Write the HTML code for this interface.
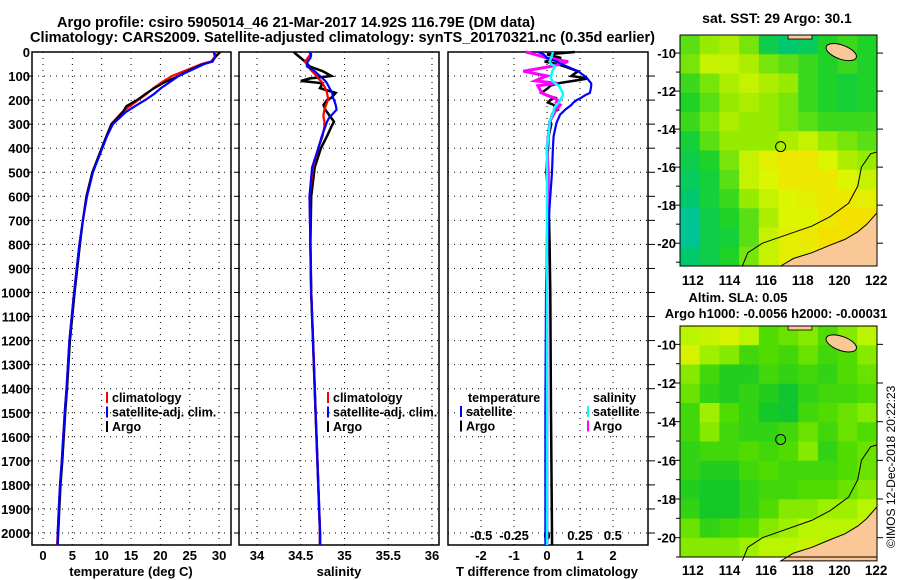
<!DOCTYPE html>
<html><head><meta charset="utf-8"><style>
body{margin:0;background:#fff;}
svg{display:block;font-family:"Liberation Sans",sans-serif;font-weight:bold;}
</style></head><body>
<svg id="fig" width="900" height="580" viewBox="0 0 900 580">
<g id="static">
<text x="57" y="27" font-size="14.5" textLength="478" lengthAdjust="spacingAndGlyphs">Argo profile: csiro 5905014_46 21-Mar-2017 14.92S 116.79E (DM data)</text>
<text x="30" y="42" font-size="14.5" textLength="625" lengthAdjust="spacingAndGlyphs">Climatology: CARS2009. Satellite-adjusted climatology: synTS_20170321.nc (0.35d earlier)</text>
<text x="131" y="576" text-anchor="middle" font-size="13">temperature (deg C)</text>
<text x="339" y="576" text-anchor="middle" font-size="13">salinity</text>
<text x="547" y="576" text-anchor="middle" font-size="13">T difference from climatology</text>
<text x="547" y="524" text-anchor="middle" font-size="13">S difference from climatology</text>
<text x="326" y="517" font-size="12" font-weight="normal">Argo Australia</text>
<text x="326" y="531" font-size="12" font-weight="normal">PI: Susan Wijffels</text>
<text x="777" y="23" text-anchor="middle" font-size="14">sat. SST: 29 Argo: 30.1</text>
<text x="738" y="302" text-anchor="middle" font-size="13">Altim. SLA: 0.05</text>
<text x="776" y="318" text-anchor="middle" font-size="13">Argo h1000: -0.0056 h2000: -0.00031</text>
<text transform="translate(895,548) rotate(-90)" font-size="12" font-weight="normal">©IMOS 12-Dec-2018 20:22:23</text>
</g>
</svg>
<script>
// ---------- profile data ----------
const tDepths = [0,20,40,50,75,100,125,150,175,200,225,250,300,350,400,500,600,700,800,1000,1200,1400,1500,1700,1800,1900,2000,2050];
const tClim   = [29.4,29.3,28.6,27.0,24.5,22.0,20.3,18.8,17.6,16.2,14.8,13.5,11.6,10.8,10.0,8.4,7.4,6.8,6.2,5.3,4.5,4.0,3.7,3.2,2.9,2.7,2.5,2.4];
const tSat    = [29.1,29.3,28.9,27.5,25.3,23.1,21.6,20.1,18.9,17.4,15.7,14.1,11.9,10.9,10.1,8.5,7.5,6.8,6.2,5.3,4.5,4.0,3.7,3.2,2.9,2.7,2.5,2.5];
const tArgo   = [30.2,29.4,28.8,27.3,25.0,23.1,20.8,19.0,17.4,16.0,14.2,13.6,11.7,10.8,10.0,8.4,7.4,6.8,6.3,5.4,4.6,4.1,3.8,3.3,3.0,2.8,2.6,2.5];
const sDepths = [0,10,25,40,60,80,100,110,120,130,150,170,190,200,220,240,260,270,290,310,350,400,480,600,800,1000,1200,1500,1700,2000,2050];
const sClim   = [34.60,34.61,34.58,34.55,34.58,34.63,34.68,34.70,34.73,34.75,34.78,34.80,34.81,34.81,34.79,34.77,34.76,34.76,34.77,34.77,34.75,34.70,34.64,34.60,34.61,34.62,34.64,34.67,34.69,34.72,34.72];
const sSat    = [34.60,34.62,34.61,34.58,34.57,34.66,34.72,34.75,34.78,34.80,34.83,34.86,34.87,34.88,34.90,34.91,34.86,34.83,34.80,34.78,34.74,34.70,34.63,34.60,34.61,34.62,34.64,34.67,34.69,34.72,34.72];
const sArgo   = [34.42,34.45,34.50,34.55,34.60,34.75,34.85,34.60,34.50,34.75,34.72,34.90,34.85,34.80,34.76,34.78,34.82,34.84,34.88,34.85,34.80,34.73,34.66,34.62,34.61,34.62,34.64,34.67,34.69,34.72,34.72];
const dDepths   = [0,10,25,40,50,60,80,100,110,120,130,140,150,170,180,190,200,210,220,240,250,260,290,300,350,400,500,600,800,1000,1500,2000,2050];
const dTSat     = [-0.27,-0.1,0.0,0.3,0.43,0.6,0.94,1.14,1.22,1.28,1.34,1.34,1.33,1.30,1.15,1.04,0.9,0.8,0.74,0.55,0.48,0.4,0.3,0.28,0.2,0.18,0.15,0.1,0.0,-0.03,-0.05,-0.05,-0.05];
const dTArgo    = [0.84,0.0,0.43,-0.07,0.3,0.53,0.94,0.74,1.24,0.8,0.33,0.1,0.03,-0.17,0.0,0.23,0.1,0.03,0.2,0.33,0.2,0.15,0.1,0.13,0.05,0.03,-0.02,0.05,0.08,0.1,0.12,0.15,0.15];
const dSArgo    = [-0.16,-0.09,0.0,0.16,0.1,0.03,-0.18,0.0,-0.05,-0.09,0.08,-0.07,-0.06,-0.04,0.0,0.05,0.08,0.07,0.1,0.07,0.06,0.05,0.02,0.02,0.01,0.0,0.01,0.01,0.0,0.0,0.0,0.0,0.0];
const dSSat     = [0.045,0.04,0.03,0.02,0.03,0.06,0.04,0.03,0.03,0.04,0.06,0.09,0.1,0.12,0.12,0.11,0.1,0.09,0.07,0.05,0.05,0.04,0.02,0.02,0.01,0.0,0.0,0.0,0.0,0.0,0.0,0.0,0.0];
const depthTicks = [0,100,200,300,400,500,600,700,800,900,1000,1100,1200,1300,1400,1500,1600,1700,1800,1900,2000];
const tTicks = [0,5,10,15,20,25,30];
const sTicks = [34,34.5,35,35.5,36];
const sTickLabels = ["34","34.5","35","35.5","36"];
const dtTicks = [-2,-1,0,1,2];
const dsTicks = [-0.5,-0.25,0,0.25,0.5];
const dsTickLabels = ["-0.5","-0.25","0","0.25","0.5"];
// ---------- map data (10 lon cols x 12 lat rows, 0..1 colour index) ----------
const sstGrid = [
[0.5,0.6,0.65,0.55,0.3,0.2,0.25,0.4,0.45,0.4],
[0.55,0.7,0.7,0.65,0.55,0.5,0.45,0.4,0.45,0.4],
[0.45,0.55,0.65,0.7,0.65,0.6,0.45,0.4,0.35,0.4],
[0.4,0.5,0.6,0.65,0.6,0.55,0.45,0.4,0.35,0.4],
[0.45,0.55,0.65,0.6,0.6,0.55,0.5,0.45,0.45,0.45],
[0.35,0.5,0.6,0.6,0.6,0.65,0.7,0.6,0.55,0.5],
[0.3,0.4,0.55,0.7,0.8,0.85,0.85,0.75,0.65,0.6],
[0.25,0.35,0.5,0.7,0.75,0.85,0.85,0.85,0.75,0.7],
[0.2,0.35,0.45,0.6,0.7,0.75,0.8,0.85,0.85,0.8],
[0.1,0.3,0.4,0.5,0.65,0.75,0.75,0.85,0.9,0.9],
[0.1,0.3,0.35,0.5,0.7,0.8,0.85,0.9,0.9,0.9],
[0.2,0.3,0.4,0.55,0.7,0.8,0.8,0.85,0.9,0.9]];
const slaGrid = [
[0.7,0.75,0.8,0.7,0.5,0.55,0.6,0.5,0.6,0.7],
[0.8,0.65,0.6,0.45,0.5,0.45,0.55,0.45,0.5,0.6],
[0.6,0.45,0.35,0.35,0.45,0.4,0.45,0.4,0.5,0.55],
[0.55,0.4,0.35,0.4,0.35,0.25,0.4,0.45,0.45,0.5],
[0.45,0.65,0.5,0.4,0.3,0.25,0.45,0.5,0.55,0.6],
[0.45,0.6,0.45,0.4,0.4,0.45,0.55,0.45,0.55,0.5],
[0.4,0.45,0.45,0.5,0.45,0.5,0.6,0.4,0.5,0.55],
[0.4,0.35,0.35,0.45,0.5,0.45,0.45,0.45,0.5,0.55],
[0.35,0.3,0.3,0.4,0.45,0.45,0.5,0.5,0.55,0.6],
[0.4,0.3,0.3,0.4,0.5,0.6,0.6,0.65,0.65,0.7],
[0.55,0.4,0.45,0.5,0.6,0.65,0.7,0.7,0.7,0.75],
[0.6,0.6,0.6,0.65,0.7,0.7,0.75,0.7,0.75,0.8]];
const coastLon = [116.8,117.5,118.5,119.5,120.3,121.0,121.5,122.05,122.05];
const coastLat = [-21.2,-20.8,-20.5,-20.1,-19.8,-19.4,-19.0,-18.4,-21.2];
const isoLon = [114.7,115.0,115.8,117.0,118.5,119.5,120.5,121.0,121.2,121.7,122.05];
const isoLat = [-21.2,-20.5,-20.0,-19.6,-19.1,-18.6,-17.9,-17.0,-16.0,-15.3,-15.2];
const floatLon = 116.79, floatLat = -14.92;
const lonTicks = [112,114,116,118,120,122];
const latTicks = [-10,-12,-14,-16,-18,-20];

const NS = "http://www.w3.org/2000/svg";
const svg = document.getElementById('fig');
function mk(tag, attrs, parent){const e=document.createElementNS(NS,tag);for(const k in attrs)e.setAttribute(k,attrs[k]);(parent||svg).appendChild(e);return e;}
const Y0=52, YB=545;
const yD = d => Y0 + d*0.2405;
const panels = [
 {name:'temperature', x0:32, x1:231, f:v=>43+v*5.87},
 {name:'salinity', x0:239, x1:439, f:v=>257+(v-34)*87.5},
 {name:'difference', x0:448, x1:648, f:v=>547+v*33}
];
const fS = v => 547 + v*131.7;

panels.forEach((p,pi)=>{
  const g = mk('g',{});
  
  
  mk('rect',{x:p.x0,y:Y0,width:p.x1-p.x0,height:YB-Y0,fill:'#fff',stroke:'#000','stroke-width':1.5},g);
  depthTicks.forEach(d=>{
    if(d===0) return;
    const l = mk('line',{x1:p.x0,x2:p.x1,y1:yD(d),y2:yD(d),stroke:'#000','stroke-dasharray':'1 5','stroke-width':1},g);
    
    
    const tk = pi===2 ? mk('line',{x1:p.x1,x2:p.x1+7,y1:yD(d),y2:yD(d),stroke:'#000'},g) : mk('line',{x1:p.x0-5,x2:p.x0,y1:yD(d),y2:yD(d),stroke:'#000'},g);
    
    
  });
});
depthTicks.forEach(d=>{
  const t = mk('text',{x:30,y:yD(d)+5,'text-anchor':'end','font-size':13});
  t.textContent = d;
  
  
});
function xTicks(vals, labels, f, y, grid, gy0, gy1){
  vals.forEach((v,i)=>{
    if(grid){
      const l = mk('line',{x1:f(v),x2:f(v),y1:gy0,y2:gy1,stroke:'#000','stroke-dasharray':'1 5'});
      
      
    }
    const t = mk('text',{x:f(v),y:y,'text-anchor':'middle','font-size':13});
    t.textContent = labels ? labels[i] : v;
    
    
  });
}
xTicks(tTicks,null,panels[0].f,560,true,Y0,YB);
xTicks(sTicks,sTickLabels,panels[1].f,560,true,Y0,YB);
xTicks(dtTicks,null,panels[2].f,560,true,Y0,YB);
xTicks(dsTicks,dsTickLabels,fS,540,false);

function line(depths, vals, f, color, name, w){
  const pts = depths.map((d,i)=>f(vals[i]).toFixed(1)+','+yD(d).toFixed(1)).join(' ');
  const pl = mk('polyline',{points:pts,fill:'none',stroke:color,'stroke-width':w||2.2,'stroke-linejoin':'miter'});
  
  
}
line(tDepths,tClim,panels[0].f,'#ff0000','temperature-climatology-line');
line(tDepths,tArgo,panels[0].f,'#000000','temperature-argo-line');
line(tDepths,tSat,panels[0].f,'#0000ff','temperature-satellite-line');
line(sDepths,sArgo,panels[1].f,'#000000','salinity-argo-line',2.5);
line(sDepths,sClim,panels[1].f,'#ff0000','salinity-climatology-line');
line(sDepths,sSat,panels[1].f,'#0000ff','salinity-satellite-line');
line(dDepths,dTArgo,panels[2].f,'#000000','t-diff-argo-line',2.5);
line(dDepths,dSArgo,fS,'#ff00ff','s-diff-argo-line',3);
line(dDepths,dTSat,panels[2].f,'#0000ff','t-diff-satellite-line');
line(dDepths,dSSat,fS,'#00ffff','s-diff-satellite-line',2.5);

function legend(x,y,items){
  items.forEach((it,i)=>{
    const yy=y+i*14.5;
    const m = mk('rect',{x:x,y:yy-10,width:2,height:11,fill:it[1]});
    
    
    const t = mk('text',{x:x+6,y:yy,'font-size':12.5});
    t.textContent = it[0];
    
    
  });
}
legend(106,402,[['climatology','#f00'],['satellite-adj. clim.','#00f'],['Argo','#000']]);
legend(327,402,[['climatology','#f00'],['satellite-adj. clim.','#00f'],['Argo','#000']]);
const lt = mk('text',{x:468,y:402,'font-size':12.5}); lt.textContent='temperature';


const ls = mk('text',{x:593,y:402,'font-size':12.5}); ls.textContent='salinity';


legend(460,416,[['satellite','#00f'],['Argo','#000']]);
legend(587,416,[['satellite','#0ff'],['Argo','#f0f']]);

// ---------- maps ----------
const MX0=680, MX1=877, LON0=111.3, LON1=122.05;
const mx = lon => MX0 + (lon-LON0)*(MX1-MX0)/(LON1-LON0);
function lerpC(stops, v){
  for(let i=1;i<stops.length;i++){ if(v<=stops[i][0]){const a=stops[i-1],b=stops[i],t=(v-a[0])/(b[0]-a[0]);
    return 'rgb('+[1,2,3].map(k=>Math.round(a[k]+(b[k]-a[k])*t)).join(',')+')';}}
  const s=stops[stops.length-1];return 'rgb('+s[1]+','+s[2]+','+s[3]+')';
}
const sstStops=[[0,0,190,190],[0.2,0,200,110],[0.4,30,210,40],[0.6,150,235,0],[0.75,220,245,0],[0.9,245,225,0],[1,250,205,0]];
const slaStops=[[0,0,180,90],[0.3,20,200,40],[0.5,80,220,0],[0.7,185,245,0],[0.85,230,240,0],[1,250,200,0]];
function drawMap(name, top, bottom, latTop, latBot, grid, stops, lonY){
  const my = lat => top + (latTop-lat)*(bottom-top)/(latTop-latBot);
  const g = mk('g',{});
  
  
  const rows=grid.length, cols=grid[0].length;
  const cw=(MX1-MX0)/cols, ch=(bottom-top)/rows;
  grid.forEach((r,ri)=>r.forEach((v,ci)=>{
    const c = mk('rect',{x:MX0+ci*cw,y:top+ri*ch,width:cw+0.5,height:ch+0.5,fill:lerpC(stops,v)},g);
    
    
  }));
  const land = mk('polygon',{points:coastLon.map((l,i)=>mx(l)+','+my(coastLat[i])).join(' '),fill:'#fac896',stroke:'#000','stroke-width':1},g);
  
  
  const isl = mk('ellipse',{cx:mx(120.1),cy:my(-9.95),rx:16,ry:7,transform:'rotate(20 '+mx(120.1)+' '+my(-9.95)+')',fill:'#fac896',stroke:'#000','stroke-width':1},g);
  
  
  const nl = mk('rect',{x:mx(117.2),y:top,width:mx(118.5)-mx(117.2),height:4,fill:'#fac896',stroke:'#000','stroke-width':0.8},g);
  
  
  const iso = mk('polyline',{points:isoLon.map((l,i)=>mx(l)+','+my(isoLat[i])).join(' '),fill:'none',stroke:'#000','stroke-width':1},g);
  
  
  const fl = mk('circle',{cx:mx(floatLon),cy:my(floatLat),r:5,fill:'none',stroke:'#000','stroke-width':1},g);
  
  
  mk('rect',{x:MX0,y:top,width:MX1-MX0,height:bottom-top,fill:'none',stroke:'#000','stroke-width':1},g);
  latTicks.forEach(l=>{
    mk('line',{x1:MX0-6,x2:MX0,y1:my(l),y2:my(l),stroke:'#000'},g);
    mk('line',{x1:MX1,x2:MX1+6,y1:my(l),y2:my(l),stroke:'#000'},g);
    mk('line',{x1:MX0-4,x2:MX0,y1:my(l-1),y2:my(l-1),stroke:'#000'},g);
    const t = mk('text',{x:676,y:my(l)+5,'text-anchor':'end','font-size':13},g);
    t.textContent = l;
    
    
  });
  lonTicks.forEach(l=>{
    const t = mk('text',{x:mx(l),y:lonY,'text-anchor':'middle','font-size':13.5},g);
    t.textContent = l;
    
    
  });
}
drawMap('sst-map',35,266,-9.05,-21.2,sstGrid,sstStops,285);
drawMap('sla-map',326,557,-9.05,-21.0,slaGrid,slaStops,575);
</script>
</body></html>
